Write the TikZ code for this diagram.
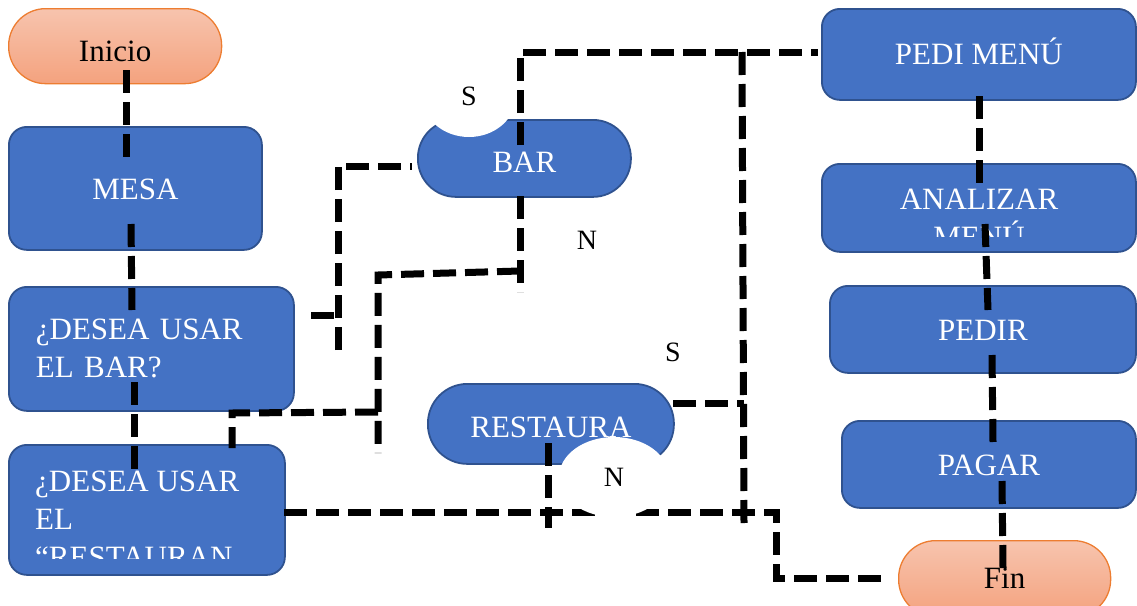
\documentclass[tikz,border=0pt]{standalone}
\usepackage{fontspec}
\setmainfont{Liberation Serif}
\usetikzlibrary{shapes.geometric}
\definecolor{blu}{HTML}{4472C4}
\definecolor{bord}{HTML}{2F528F}
\definecolor{orTop}{HTML}{F7C4AE}
\definecolor{orBot}{HTML}{F4A27E}
\definecolor{orBd}{HTML}{ED7D31}
\newcommand{\bigf}{\fontsize{31}{38}\selectfont}
\newcommand{\labf}{\fontsize{28}{32}\selectfont}
\newcommand{\lowr}[2]{\raisebox{-#1}[0pt][0pt]{#2}}
\begin{document}
\begin{tikzpicture}[x=1pt,y=-1pt,
  box/.style={draw=bord, fill=blu, line width=1.8pt, rounded corners=18pt, text=white,
    inner sep=0pt, anchor=north west, font=\bigf},
  term/.style={draw=orBd, line width=1.3pt, top color=orTop, bottom color=orBot, text=black,
    inner sep=0pt, anchor=north west, font=\bigf, rounded corners=37pt},
  boxtext/.style={inner sep=0pt, text=white, font=\bigf},
  con/.style={line width=7pt, dash pattern=on 23pt off 9pt},
  lab/.style={font=\labf, inner sep=0pt, text=black},
  bite/.style={lab, ellipse, fill=white, draw=none}
]
\useasboundingbox (0,0) rectangle (1137,605);

% ---------- nodes ----------
\node[term, minimum width=213pt, minimum height=75pt] (inicio) at (8,8) {\lowr{15pt}{Inicio}};
\node[box, minimum width=253pt, minimum height=123pt] (mesa) at (8,126) {\lowr{11.5pt}{MESA}};
\node[box, minimum width=285pt, minimum height=124pt, text width=231pt, align=left, inner xsep=27pt] (qbar) at (8,286) {¿DESEA USAR\\EL BAR?};
\node[box, minimum width=276pt, minimum height=130pt] (qres) at (8,444) {};
\begin{scope}
  \clip (8,444) rectangle (284,558);
  \node[boxtext, anchor=north west, align=left] (qrestxt) at (35,471) {¿DESEA USAR\\EL\\“RESTAURAN};
\end{scope}
\node[box, rounded corners=38pt, minimum width=213pt, minimum height=77pt] (bar) at (417,119) {\lowr{14.5pt}{BAR}};
\node[box, rounded corners=39.5pt, minimum width=246pt, minimum height=80pt] (rest) at (427,383) {\lowr{14pt}{RESTAURA}};
\node[box, minimum width=314pt, minimum height=91pt] (pedi) at (821,8) {\lowr{10.5pt}{PEDI MENÚ}};
\node[box, minimum width=314pt, minimum height=88pt] (anal) at (821,163) {};
\begin{scope}
  \clip (821,163) rectangle (1135,236);
  \node[boxtext, anchor=north, align=center] (analtxt) at (979,189) {ANALIZAR\\MENÚ};
\end{scope}
\node[box, minimum width=306pt, minimum height=87pt] (pedir) at (829,285) {\lowr{11pt}{PEDIR}};
\node[box, minimum width=294pt, minimum height=87pt] (pagar) at (841,420) {\lowr{11pt}{PAGAR}};
\node[term, minimum width=212pt, minimum height=76pt] (fin) at (898,540) {\lowr{10pt}{Fin}};

% ---------- connector points ----------
\coordinate (a1) at (126,70);   \coordinate (a2) at (126,158);
\coordinate (b1) at (131,224);  \coordinate (b2) at (132,310);
\coordinate (b3) at (134,382);  \coordinate (b4) at (134,470);
\coordinate (c1) at (311,315);  \coordinate (c2) at (338,315);
\coordinate (c3) at (338,350);  \coordinate (c4) at (338,166);  \coordinate (c5) at (412,166);
\coordinate (d1) at (520,196);  \coordinate (d2) at (520,292);
\coordinate (d3) at (520,271);  \coordinate (d4) at (378,275);  \coordinate (d5) at (378,453);
\coordinate (d6) at (378,412);  \coordinate (d7) at (232,413);  \coordinate (d8) at (232,448);
\coordinate (e1) at (520,145);  \coordinate (e2) at (520,52);   \coordinate (e3) at (818,52);
\coordinate (f1) at (742,52);   \coordinate (f2) at (744,523);
\coordinate (g1) at (673,403);  \coordinate (g2) at (744,403);
\coordinate (h1) at (284,512);  \coordinate (h2) at (776,512);  \coordinate (h3) at (776,578);  \coordinate (h4) at (888,578);
\coordinate (i1) at (548,443);  \coordinate (i2) at (548,528);
\coordinate (j1) at (979,96);   \coordinate (j2) at (979,183);
\coordinate (k1) at (985,224);  \coordinate (k2) at (988,310);
\coordinate (l1) at (992,355);  \coordinate (l2) at (993,442);
\coordinate (m1) at (1002,481); \coordinate (m2) at (1003,568);

% ---------- connectors ----------
\draw[con] (a1) -- (a2);
\draw[con] (b1) -- (b2);
\draw[con] (b3) -- (b4);
\draw[con] (c1) -- (c2);
\draw[con] (c3) -- (c4) -- (c5);
\draw[con] (d1) -- (d2);
\draw[con] (d3) -- (d4) -- (d5);
\draw[con] (d6) -- (d7) -- (d8);
\draw[con] (e1) -- (e2) -- (e3);
\draw[con] (f1) -- (f2);
\draw[con] (g1) -- (g2);
\draw[con] (h1) -- (h2) -- (h3) -- (h4);
\draw[con] (i1) -- (i2);
\draw[con] (j1) -- (j2);
\draw[con] (k1) -- (k2);
\draw[con] (l1) -- (l2);
\draw[con] (m1) -- (m2);

% ---------- labels ----------
\node[bite, minimum width=94pt, minimum height=82pt] (s1) at (469,96) {S};
\node[bite, minimum width=110pt, minimum height=80pt] (n2) at (614,477) {N};
\node[lab] (n1) at (587,240) {N};
\node[lab] (s2) at (673,352) {S};
\end{tikzpicture}
\end{document}
